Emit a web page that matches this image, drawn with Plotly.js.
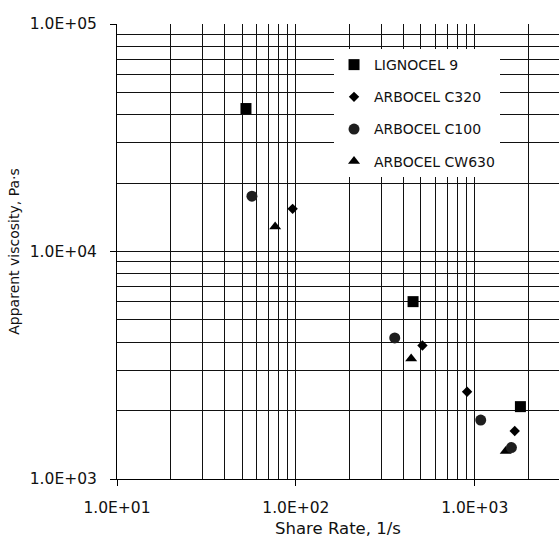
<!DOCTYPE html>
<html>
<head>
<meta charset="utf-8">
<script src="https://cdn.plot.ly/plotly-3.0.1.min.js"></script>
<style>html,body{margin:0;padding:0;background:#fff;} #chart{width:559px;height:538px;}</style>
</head>
<body>
<div id="chart"></div>
<script>
// Data
const seriesNames = ["LIGNOCEL 9", "ARBOCEL C320", "ARBOCEL C100", "ARBOCEL CW630"];
const lignocelX = [52.6, 452, 1800];
const lignocelY = [42500, 6020, 2080];
const c320X = [95.9, 510, 906, 1673];
const c320Y = [15400, 3860, 2420, 1625];
const c100X = [56.8, 357, 1080, 1603];
const c100Y = [17500, 4170, 1815, 1375];
const cw630X = [76.6, 441, 1490];
const cw630Y = [12850, 3380, 1325];

const xTickVals = [10, 100, 1000];
const xTickText = ["1.0E+01", "1.0E+02", "1.0E+03"];
const yTickVals = [1000, 10000, 100000];
const yTickText = ["1.0E+03", "1.0E+04", "1.0E+05"];
const xMinorVals = [20,30,40,50,60,70,80,90,200,300,400,500,600,700,800,900,2000,3000];
const yMinorVals = [2000,3000,4000,5000,6000,7000,8000,9000,20000,30000,40000,50000,60000,70000,80000,90000];

const FONT = "DejaVu Sans, Verdana, sans-serif";
const GRID = "#111";

const traces = [
  {name: seriesNames[0], x: lignocelX, y: lignocelY, legendrank: 1, legendgroup: "a",
   marker: {symbol: "square", size: 11, color: "#000"}},
  {name: seriesNames[1], x: c320X, y: c320Y, legendrank: 2, legendgroup: "b",
   marker: {symbol: "diamond", size: 8, color: "#000"}},
  {name: seriesNames[3], x: cw630X, y: cw630Y, legendrank: 4, legendgroup: "d",
   marker: {symbol: "triangle-up", size: 10.5, color: "#000"}},
  {name: seriesNames[2], x: c100X, y: c100Y, legendrank: 3, legendgroup: "c",
   marker: {symbol: "circle", size: 11, color: "#1e1e1e"}}
].map(t => Object.assign({type: "scatter", mode: "markers", cliponaxis: false}, t));

const layout = {
  width: 559, height: 538,
  margin: {l: 117, r: 0, t: 24, b: 59},
  paper_bgcolor: "#fff", plot_bgcolor: "#fff",
  font: {family: FONT, color: "#111", size: 15},
  showlegend: true,
  legend: {
    x: 0.491, y: 0.945, xanchor: "left", yanchor: "top",
    bgcolor: "#fff", borderwidth: 0,
    font: {family: FONT, size: 14, color: "#111"},
    traceorder: "grouped", tracegroupgap: 11
  },
  xaxis: {
    type: "log", range: [1, 3.471],
    tickmode: "array", tickvals: xTickVals, ticktext: xTickText,
    ticks: "outside", ticklen: 6, tickcolor: "#000", tickwidth: 1,
    ticklabelstandoff: 8,
    showgrid: true, gridcolor: GRID, gridwidth: 1,
    minor: {tickmode: "array", tickvals: xMinorVals, showgrid: true, gridcolor: GRID, gridwidth: 1, ticks: ""},
    showline: true, linecolor: "#000", linewidth: 1,
    zeroline: false,
    tickfont: {family: FONT, size: 15.5, color: "#111"},
    title: {text: "Share Rate, 1/s", font: {family: FONT, size: 16.5, color: "#111"}, standoff: 6}
  },
  yaxis: {
    type: "log", range: [3, 5],
    tickmode: "array", tickvals: yTickVals, ticktext: yTickText,
    ticks: "outside", ticklen: 6, tickcolor: "#000", tickwidth: 1,
    ticklabelstandoff: 10,
    showgrid: true, gridcolor: GRID, gridwidth: 1,
    minor: {tickmode: "array", tickvals: yMinorVals, showgrid: true, gridcolor: GRID, gridwidth: 1, ticks: ""},
    showline: true, linecolor: "#000", linewidth: 1,
    zeroline: false,
    tickfont: {family: FONT, size: 15.5, color: "#111"},
    title: {text: "Apparent viscosity, Pa·s", font: {family: FONT, size: 14, color: "#111"}, standoff: 6}
  }
};

Plotly.newPlot("chart", traces, layout, {displayModeBar: false, staticPlot: true});
</script>
</body>
</html>
